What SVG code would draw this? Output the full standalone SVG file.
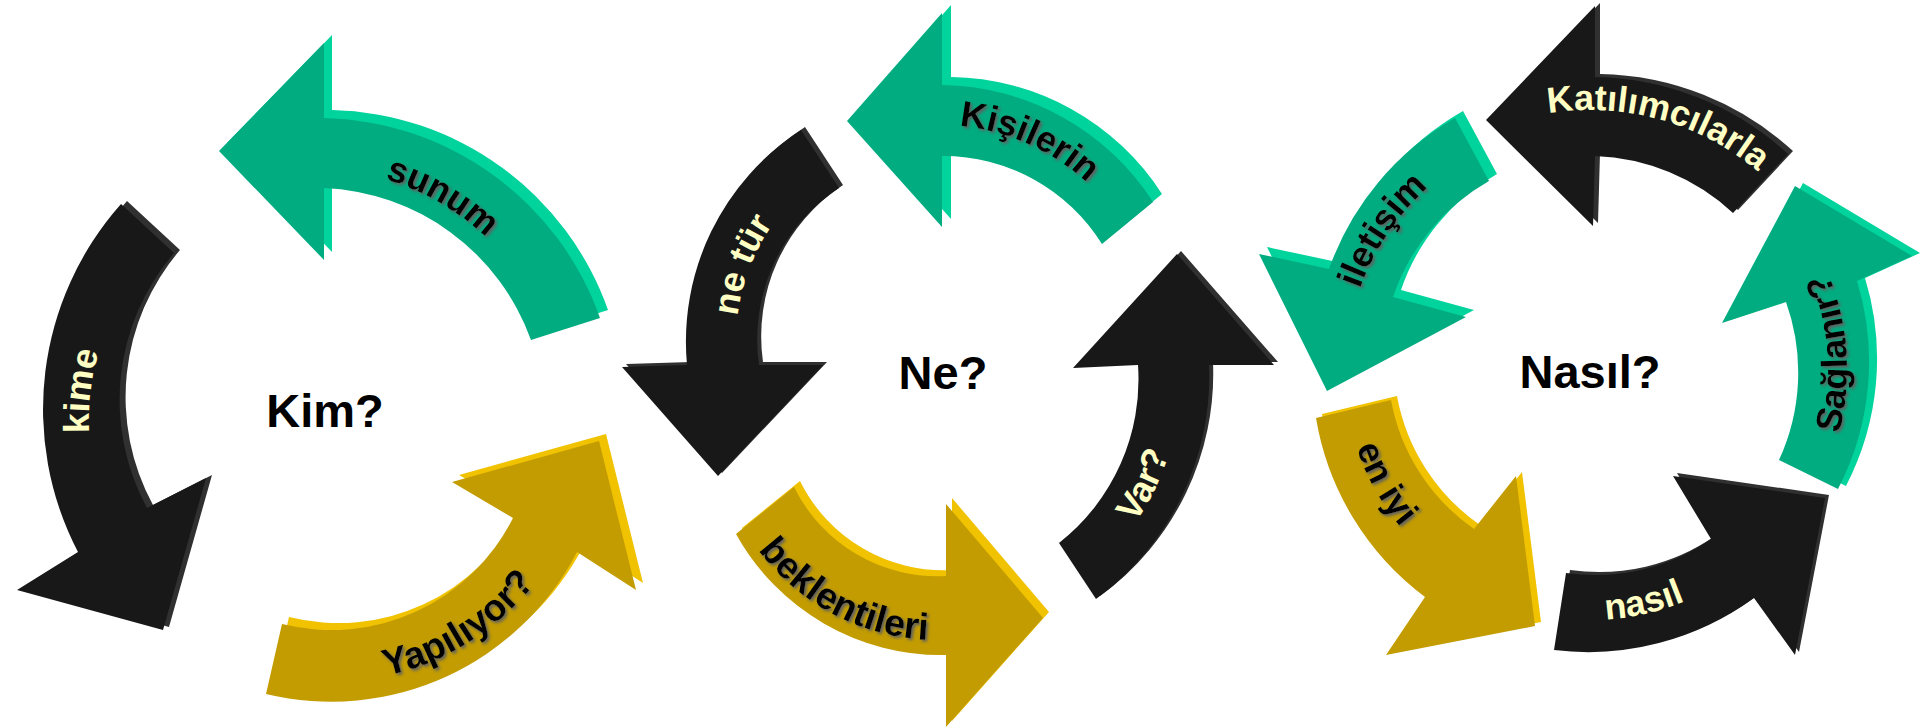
<svg xmlns="http://www.w3.org/2000/svg" width="1920" height="728" viewBox="0 0 1920 728">
<defs>
<style>
.lbl{font-family:"Liberation Sans",Arial,sans-serif;font-weight:bold;font-size:36px}
.big{font-size:37.5px}
.dk{fill:#000;filter:url(#sh)}
.lt{fill:#FFFFC4}
.ctr{font-family:"Liberation Sans",Arial,sans-serif;font-weight:bold;font-size:47px;fill:#000;text-anchor:middle}
.g{fill:#00AC80}.gb{fill:#00D39C}
.y{fill:#C29C00}.yb{fill:#F0C200}
.k{fill:#181818}.kb{fill:#303030}
</style>
<filter id="sh" x="-10%" y="-30%" width="130%" height="160%"><feDropShadow dx="2" dy="2" stdDeviation="1.4" flood-color="#606060" flood-opacity="1"/></filter>
<path id="a1" d="M219,151 L324,43 L324,118 A300,300 0 0,1 600,318 L531,340 A230,230 0 0,0 324,188 L324,260 Z"/>
<path id="a2" d="M121,204 L174,253 A226,226 0 0,0 147,508 L206,478 L163,630 L17,590 L78,552 A309,309 0 0,1 121,204 Z"/>
<path id="a3" d="M282,624 A203,203 0 0,0 513,518 L452,482 L599,441 L636,590 L577,552 A277,277 0 0,1 266,694 Z"/>
<path id="a4" d="M847,121 L942,13 L942,85 A255,255 0 0,1 1153,202 L1102,244 A187,187 0 0,0 942,156 L942,227 Z"/>
<path id="a5" d="M801,130 L839,188 A181,181 0 0,0 759,365 L823,365 L718,476 L622,367 L687,365 A252,252 0 0,1 801,130 Z"/>
<path id="a6" d="M794,487 A160,160 0 0,0 946,576 L946,504 L1043,618 L946,727 L946,655 A235,235 0 0,1 736,534 Z"/>
<path id="a7" d="M1177,254 L1274,365 L1209,365 A275,275 0 0,1 1096,599 L1059,543 A208,208 0 0,0 1138,365 L1073,368 Z"/>
<path id="a8" d="M1486,120 L1595,6 L1595,77 A293,293 0 0,1 1788,154 L1733,213 A214,214 0 0,0 1595,156 L1593,226 Z"/>
<path id="a9" d="M1455,118 A282,282 0 0,0 1329,269 L1259,254 L1327,391 L1466,317 L1393,297 A211,211 0 0,1 1489,181 Z"/>
<path id="a10" d="M1722,323 L1795,186 L1912,256 L1857,281 A276,276 0 0,1 1838,489 L1779,460 A209,209 0 0,0 1786,302 Z"/>
<path id="a11" d="M1566,573 A204,204 0 0,0 1711,539 L1673,476 L1825,498 L1795,655 L1754,598 A281,281 0 0,1 1554,650 Z"/>
<path id="a12" d="M1316,418 L1391,400 A201,201 0 0,0 1474,529 L1516,476 L1535,626 L1386,655 L1425,597 A281,281 0 0,1 1316,418 Z"/>
<path id="t1" d="M191,202.2 A248,248 0 0,1 563,417"/>
<path id="t2" d="M185.9,613.3 A241,241 0 0,1 234.7,198.7"/>
<path id="t3" d="M207,651.3 A262,262 0 0,0 591.8,410.9"/>
<path id="t4" d="M813,166.3 A216,216 0 0,1 1154.8,318.4"/>
<path id="t5" d="M781.5,469.4 A204,204 0 0,1 908.1,139.5"/>
<path id="t6" d="M714.1,423.8 A224,224 0 0,0 1056.7,606"/>
<path id="t7" d="M947.4,629.4 A250,250 0 0,0 1137.3,240.2"/>
<path id="t8" d="M1407.8,184.5 A260,260 0 0,1 1841.7,304.9"/>
<path id="t9" d="M1370.7,477 A244,244 0 0,1 1607,126.6"/>
<path id="t10" d="M1733.7,583.1 A257,257 0 0,0 1702.7,139"/>
<path id="t11" d="M1407.2,540.5 A250,250 0 0,0 1829.1,443.1"/>
<path id="t12" d="M1379.1,243.3 A246,246 0 0,0 1585.7,616"/>
</defs>
<rect width="1920" height="728" fill="#ffffff"/>

<g id="cycle-kim">
<g id="arrow-sunum"><use href="#a1" class="gb" transform="translate(8,-8)"/><use href="#a1" class="g"/><text class="lbl dk"><textPath href="#t1" startOffset="50%" text-anchor="middle">sunum</textPath></text></g>
<g id="arrow-kime"><use href="#a2" class="kb" transform="translate(6,-3)"/><use href="#a2" class="k"/><text class="lbl lt"><textPath href="#t2" startOffset="50%" text-anchor="middle">kime</textPath></text></g>
<g id="arrow-yapiliyor"><use href="#a3" class="yb" transform="translate(7,-7)"/><use href="#a3" class="y"/><text class="lbl big dk"><textPath href="#t3" startOffset="50%" text-anchor="middle">Yapılıyor?</textPath></text></g>
<g id="center-kim"><text class="ctr" x="325" y="427">Kim?</text></g>
</g>

<g id="cycle-ne">
<g id="arrow-kisilerin"><use href="#a4" class="gb" transform="translate(9,-8)"/><use href="#a4" class="g"/><text class="lbl dk"><textPath href="#t4" startOffset="50%" text-anchor="middle">Kişilerin</textPath></text></g>
<g id="arrow-netur"><use href="#a5" class="kb" transform="translate(4,-3)"/><use href="#a5" class="k"/><text class="lbl lt"><textPath href="#t5" startOffset="50%" text-anchor="middle">ne tür</textPath></text></g>
<g id="arrow-beklentileri"><use href="#a6" class="yb" transform="translate(6,-6)"/><use href="#a6" class="y"/><text class="lbl big dk"><textPath href="#t6" startOffset="50%" text-anchor="middle">beklentileri</textPath></text></g>
<g id="arrow-var"><use href="#a7" class="kb" transform="translate(4,-3)"/><use href="#a7" class="k"/><text class="lbl lt"><textPath href="#t7" startOffset="50%" text-anchor="middle">Var?</textPath></text></g>
<g id="center-ne"><text class="ctr" x="943" y="389">Ne?</text></g>
</g>

<g id="cycle-nasil">
<g id="arrow-katilimcilarla"><use href="#a8" class="kb" transform="translate(5,-3)"/><use href="#a8" class="k"/><text class="lbl lt"><textPath href="#t8" startOffset="50%" text-anchor="middle">Katılımcılarla</textPath></text></g>
<g id="arrow-iletisim"><use href="#a9" class="gb" transform="translate(8,-7)"/><use href="#a9" class="g"/><text class="lbl dk"><textPath href="#t9" startOffset="50%" text-anchor="middle">iletişim</textPath></text></g>
<g id="arrow-saglanir"><use href="#a10" class="gb" transform="translate(8,-3)"/><use href="#a10" class="g"/><text class="lbl dk"><textPath href="#t10" startOffset="50%" text-anchor="middle">Sağlanır?</textPath></text></g>
<g id="arrow-nasil"><use href="#a11" class="kb" transform="translate(4,-3)"/><use href="#a11" class="k"/><text class="lbl lt"><textPath href="#t11" startOffset="50%" text-anchor="middle">nasıl</textPath></text></g>
<g id="arrow-eniyi"><use href="#a12" class="yb" transform="translate(6,-4)"/><use href="#a12" class="y"/><text class="lbl dk"><textPath href="#t12" startOffset="50%" text-anchor="middle">en iyi</textPath></text></g>
<g id="center-nasil"><text class="ctr" x="1590" y="388">Nasıl?</text></g>
</g>
</svg>
